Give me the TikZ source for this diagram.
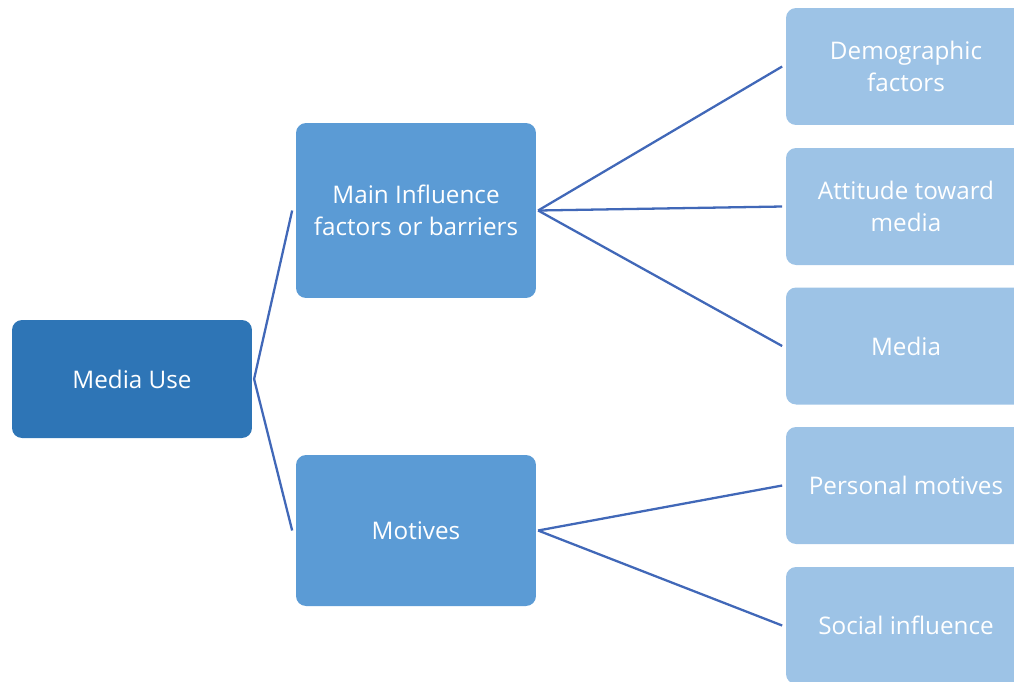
\documentclass[tikz,border=0pt]{standalone}
\usepackage{fontspec}
\setmainfont{Open Sans}
\definecolor{rootblue}{HTML}{2E75B6}
\definecolor{midblue}{HTML}{5B9BD5}
\definecolor{leafblue}{HTML}{9DC3E6}
\definecolor{linkblue}{HTML}{4168B8}
\begin{document}
\begin{tikzpicture}[x=0.02cm,y=-0.02cm]
    \tikzstyle{box}=[rounded corners=0.2cm, text=white, align=center, inner sep=0pt,
      minimum width=4.8cm, font=\fontsize{13.8}{18}\selectfont]
    \tikzstyle{link}=[draw=linkblue, line width=1.3pt]
    \useasboundingbox (0,0) rectangle (1014,681);
    \clip (0,0) rectangle (1014,681);
    % left and middle
    \node[box, fill=rootblue, minimum height=2.36cm] (use) at (132,379) {Media Use};
    \node[box, fill=midblue, minimum height=3.5cm] (infl) at (416,210.5) {Main Influence\\factors or barriers};
    \node[box, fill=midblue, minimum height=3.02cm] (mot) at (416,530.5) {Motives};
    % right column
    \node[box, fill=leafblue, minimum height=2.34cm] (demo) at (906,66.5) {Demographic\\factors};
    \node[box, fill=leafblue, minimum height=2.34cm] (att) at (906,206.5) {Attitude toward\\media};
    \node[box, fill=leafblue, minimum height=2.34cm] (med) at (906,346) {Media};
    \node[box, fill=leafblue, minimum height=2.34cm] (pers) at (906,485.5) {Personal motives};
    \node[box, fill=leafblue, minimum height=2.34cm] (soc) at (906,625.5) {Social influence};
    \draw[link] ([xshift=1pt]use.east) -- ([xshift=-2pt]infl.west);
    \draw[link] ([xshift=1pt]use.east) -- ([xshift=-2pt]mot.west);
    \draw[link] ([xshift=1pt]infl.east) -- ([xshift=-2pt]demo.west);
    \draw[link] ([xshift=1pt]infl.east) -- ([xshift=-2pt]att.west);
    \draw[link] ([xshift=1pt]infl.east) -- ([xshift=-2pt]med.west);
    \draw[link] ([xshift=1pt]mot.east) -- ([xshift=-2pt]pers.west);
    \draw[link] ([xshift=1pt]mot.east) -- ([xshift=-2pt]soc.west);
\end{tikzpicture}
\end{document}
